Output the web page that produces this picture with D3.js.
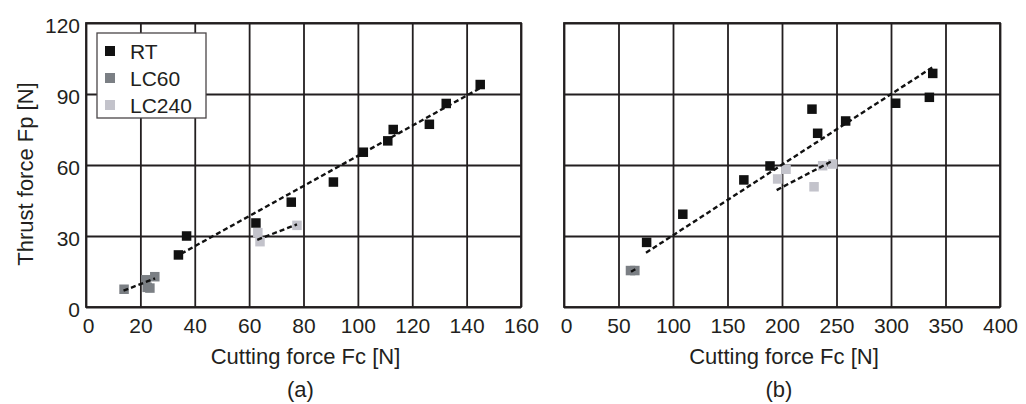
<!DOCTYPE html>
<html>
<head>
<meta charset="utf-8">
<script src="https://cdn.jsdelivr.net/npm/d3@7"></script>
<style>
  body { margin: 0; background: #fff; }
  svg { display: block; font-family: "Liberation Sans", Arial, sans-serif; }
  .tick text { font-size: 21px; fill: #231f20; }
  .title { font-size: 22px; fill: #231f20; }
  .legend-text { font-size: 21px; fill: #231f20; }
</style>
</head>
<body>
<div id="chart"></div>
<script>
// tick labels
const yTicks = [0, 30, 60, 90, 120];
const xTicksA = [0, 20, 40, 60, 80, 100, 120, 140, 160];
const xTicksB = [0, 50, 100, 150, 200, 250, 300, 350, 400];

// (a) points [Fc, Fp]
const rtA = [[34, 22], [37, 30], [62.5, 35.5], [75.5, 44.3], [91, 52.8], [102, 65.4],
  [111, 70.2], [113, 75], [126.3, 77.2], [132.5, 86], [145, 94]];
const lc60A = [[14, 7.5], [22, 11.5], [22.5, 8.3], [23.5, 8], [25.3, 12.8]];
const lc240A = [[63.2, 31.4], [64, 27.6], [77.6, 34.5]];

// (a) trend lines, end points
const rtFitA = [[35, 22.5], [145, 92.5]];
const lc60FitA = [[13.8, 6.9], [25.4, 12.1]];
const lc240FitA = [[63, 28.4], [77.6, 34.9]];

// (b) points
const rtB = [[75.8, 27.3], [109, 39.2], [165, 53.7], [189, 59.6], [227.5, 83.6], [232.7, 73.4],
  [258.4, 78.6], [304.3, 86.1], [335.2, 88.6], [338.3, 98.7]];
const lc60B = [[61, 15.4], [65, 15.4]];
const lc240B = [[196, 54.1], [203.7, 58.2], [229.4, 50.8], [237.3, 59.7], [246.5, 60.4]];

// (b) trend lines
const rtFitB = [[75.2, 22.9], [338.8, 101.5]];
const lc60FitB = [[61.5, 14.9], [65.5, 16]];
const lc240FitB = [[195.1, 49.4], [246.5, 61.8]];

const seriesNames = ["RT", "LC60", "LC240"];
const seriesColors = ["#111111", "#7b7f84", "#c3c3cb"];

const W = 1026, H = 404;
const ink = "#231f20";
const svg = d3.select("#chart").append("svg").attr("width", W).attr("height", H);

const plotTop = 23, plotBottom = 307;
const y = d3.scaleLinear().domain([0, 120]).range([plotBottom, plotTop]);

function panel(opts) {
  const x = d3.scaleLinear().domain(opts.xDomain).range(opts.xRange);
  const g = svg.append("g");
  const w = opts.xRange[1] - opts.xRange[0];
  const h = plotBottom - plotTop;

  // grid + ticks via axes
  const gx = g.append("g").attr("transform", `translate(0,${plotBottom})`)
    .call(d3.axisBottom(x).tickValues(opts.xTicks).tickSize(-h).tickPadding(11).tickSizeOuter(0));
  gx.selectAll(".tick text").attr("dx", (d, i) => i === 0 ? 2 : 0);

  const gy = g.append("g").attr("transform", `translate(${opts.xRange[0]},0)`)
    .call(d3.axisLeft(y).tickValues(yTicks).tickSize(-w).tickPadding(6).tickSizeOuter(0)
      .tickFormat(opts.yLabels ? d3.format("d") : ""));
  gy.selectAll(".tick text").attr("dy", "0.45em");

  g.selectAll(".domain").remove();
  g.selectAll(".tick line").attr("stroke", ink).attr("stroke-width", 1.8);

  g.append("rect")
    .attr("x", opts.xRange[0]).attr("y", plotTop)
    .attr("width", w).attr("height", h)
    .attr("fill", "none").attr("stroke", ink).attr("stroke-width", 1.8);

  // legend goes over grid, under points
  if (opts.legend) {
    const lg = g.append("g");
    lg.append("rect")
      .attr("x", 97).attr("y", 33).attr("width", 109).attr("height", 85)
      .attr("fill", "#fff").attr("stroke", "#4a4648").attr("stroke-width", 1.3);
    seriesNames.forEach((s, i) => {
      const cy = 51 + i * 27;
      lg.append("rect")
        .attr("x", 105).attr("y", cy - 5).attr("width", 10).attr("height", 10)
        .attr("fill", seriesColors[i]);
      lg.append("text").attr("class", "legend-text")
        .attr("x", 130).attr("y", cy + 7.5).text(s);
    });
  }

  const line = d3.line().x(d => x(d[0])).y(d => y(d[1]));
  const sz = 9.5;

  // points, light series first
  [[opts.pts[2], seriesColors[2]], [opts.pts[1], seriesColors[1]], [opts.pts[0], seriesColors[0]]]
    .forEach(([pts, c]) => {
      g.append("g").selectAll("rect").data(pts).join("rect")
        .attr("x", d => x(d[0]) - sz / 2).attr("y", d => y(d[1]) - sz / 2)
        .attr("width", sz).attr("height", sz).attr("fill", c);
    });

  opts.fits.forEach(f => {
    g.append("path").datum(f).attr("d", line)
      .attr("fill", "none").attr("stroke", "#111").attr("stroke-width", 2.4)
      .attr("stroke-dasharray", "5,3");
  });

  const cx = (opts.xRange[0] + opts.xRange[1]) / 2;
  g.append("text").attr("class", "title").attr("text-anchor", "middle")
    .attr("x", cx + 2).attr("y", 364).text("Cutting force Fc [N]");
  g.append("text").attr("class", "title").attr("text-anchor", "middle")
    .attr("x", cx - 3).attr("y", 397).text(opts.tag);
}

panel({
  xDomain: [0, 160], xRange: [86, 521], xTicks: xTicksA, yLabels: true, legend: true,
  pts: [rtA, lc60A, lc240A], fits: [rtFitA, lc60FitA, lc240FitA], tag: "(a)"
});
panel({
  xDomain: [0, 400], xRange: [564, 1000], xTicks: xTicksB, yLabels: false, legend: false,
  pts: [rtB, lc60B, lc240B], fits: [rtFitB, lc60FitB, lc240FitB], tag: "(b)"
});

svg.append("text").attr("class", "title").attr("text-anchor", "middle")
  .attr("transform", "translate(33,174) rotate(-90)").text("Thrust force Fp [N]");
</script>
</body>
</html>
